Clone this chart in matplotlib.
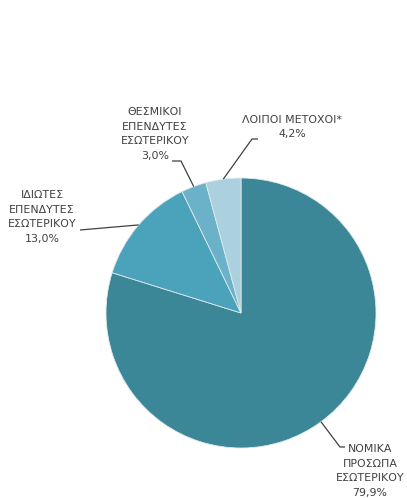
import matplotlib

matplotlib.use("Agg")

import matplotlib.pyplot as plt
import numpy as np

# shareholder structure, clockwise from 12 o'clock
labels = [
    "ΝΟΜΙΚΑ\nΠΡΟΣΩΠΑ\nΕΣΩΤΕΡΙΚΟΥ",
    "ΙΔΙΩΤΕΣ\nΕΠΕΝΔΥΤΕΣ\nΕΣΩΤΕΡΙΚΟΥ",
    "ΘΕΣΜΙΚΟΙ\nΕΠΕΝΔΥΤΕΣ\nΕΣΩΤΕΡΙΚΟΥ",
    "ΛΟΙΠΟΙ ΜΕΤΟΧΟΙ*",
]
shares = [79.9, 13.0, 3.0, 4.2]
colors = ["#3b8797", "#4aa2bb", "#6bb2c8", "#abd0de"]

W, H = 407, 498
CX, CY, R = 241, 313, 135

# label text centre (px) and the elbow where the leader meets the text
label_pos = [(370, 471), (42, 217), (155, 134), (292, 127)]
elbows = [((345, 447), (340, 447)),
          ((80, 230), (80, 230)),
          ((172, 161), (181, 161)),
          ((258, 139), (252, 139))]
text_color = "#404040"


def px(x, y):
    return x, H - y


fig = plt.figure(figsize=(W / 100, H / 100), dpi=100)
ax = fig.add_axes([0, 0, 1, 1])
ax.set_xlim(0, W)
ax.set_ylim(0, H)
ax.set_aspect("equal")
ax.axis("off")

wedges, _ = ax.pie(
    shares,
    colors=colors,
    startangle=90,
    counterclock=False,
    radius=R,
    center=px(CX, CY),
    wedgeprops=dict(linewidth=0.6, edgecolor="#dfe9ec"),
)
ax.set_xlim(0, W)
ax.set_ylim(0, H)

for w, name, val, (tx, ty), (e1, e2) in zip(wedges, labels, shares, label_pos, elbows):
    mid = np.deg2rad((w.theta1 + w.theta2) / 2)
    ax_x = CX + R * np.cos(mid)
    ax_y = CY - R * np.sin(mid)
    xs = [e1[0], e2[0], ax_x]
    ys = [e1[1], e2[1], ax_y]
    ax.plot(xs, [H - y for y in ys], color=text_color, linewidth=0.9,
            solid_capstyle="butt")
    txt = f"{name}\n{val:.1f}%".replace(".", ",")
    ax.text(*px(tx, ty), txt, ha="center", va="center", fontsize=7.9,
            color=text_color, linespacing=1.55, family="DejaVu Sans")

fig.savefig("out.png", dpi=100)
